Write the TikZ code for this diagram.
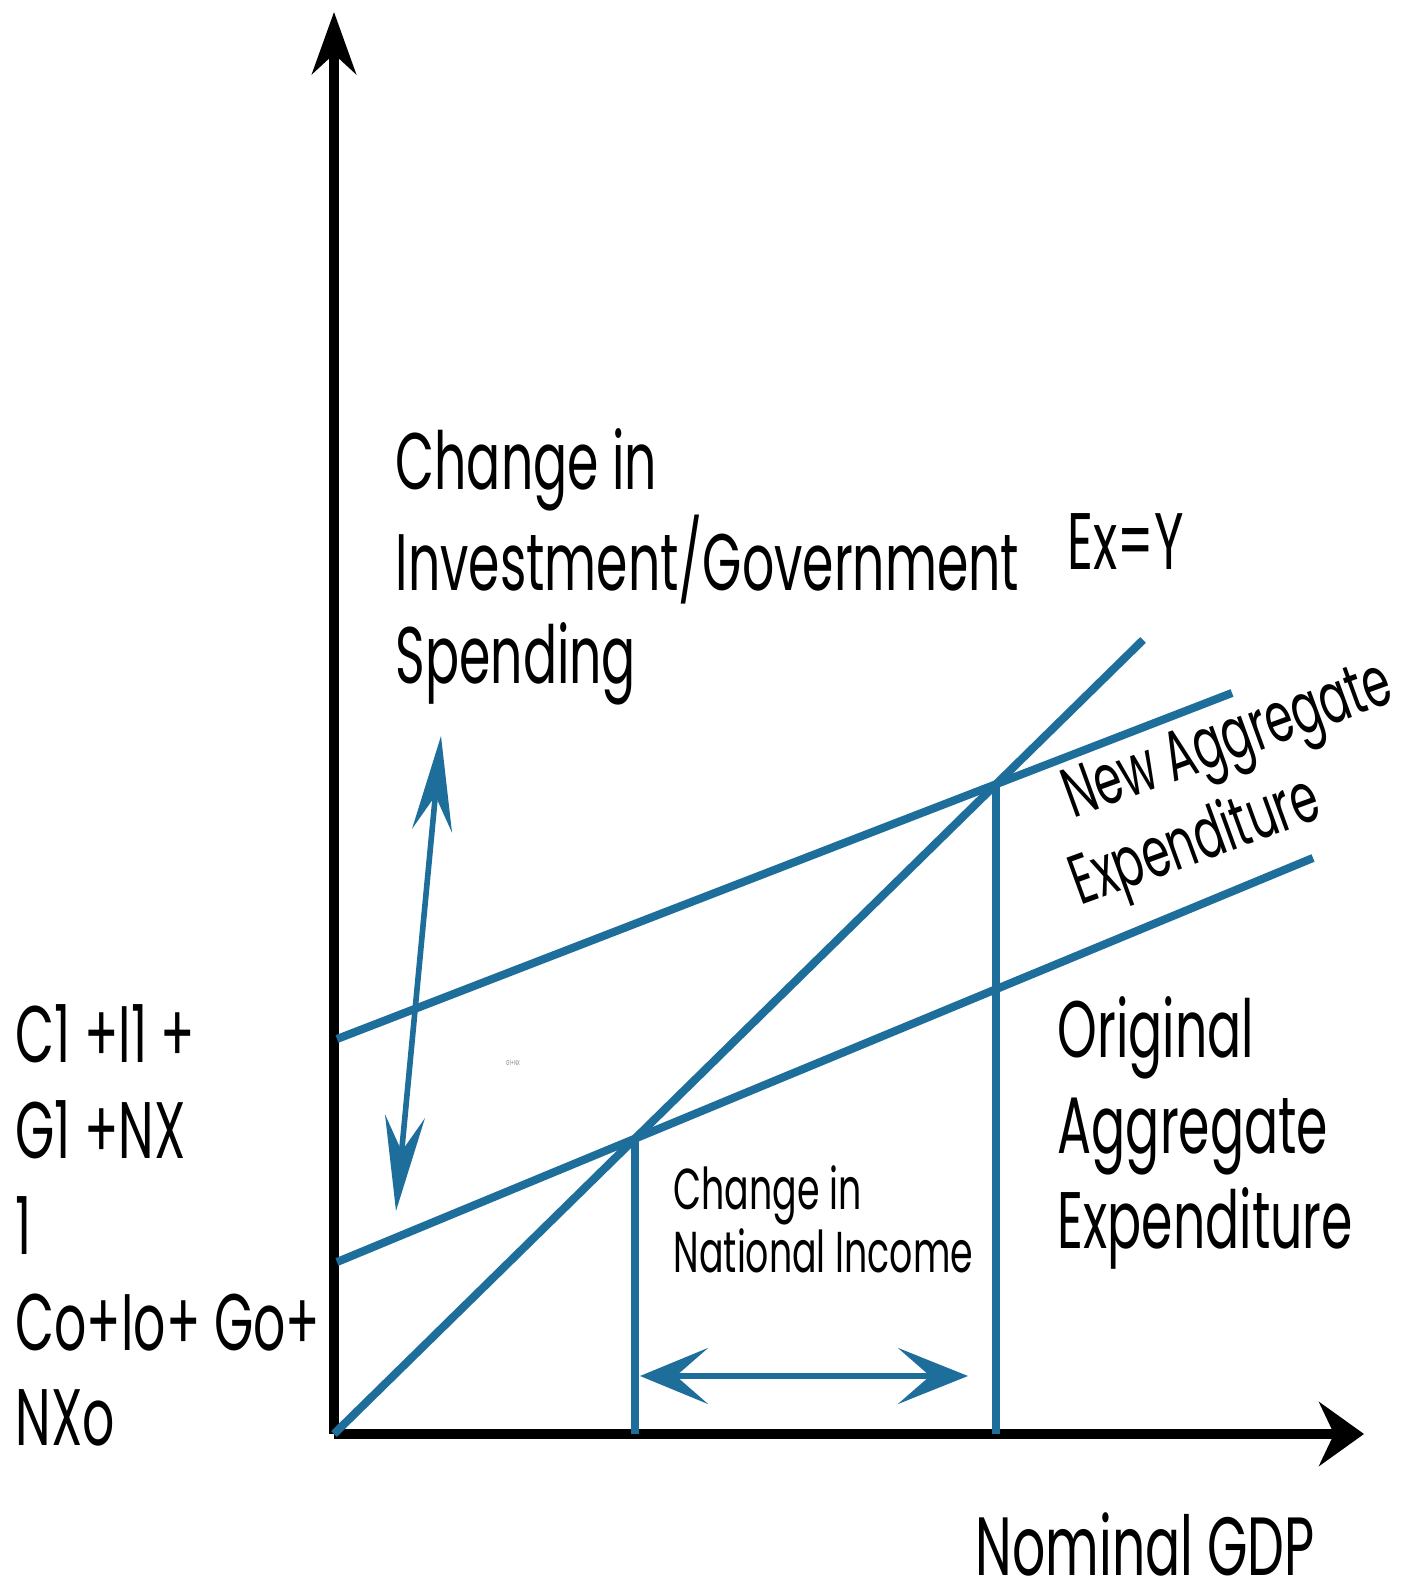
\documentclass[tikz,border=0pt]{standalone}
\usepackage{fontspec}
\setmainfont{Poppins}[FakeStretch=0.63]
\usetikzlibrary{arrows.meta,positioning}
\definecolor{aeblue}{RGB}{30,110,155}

\begin{document}
\begin{tikzpicture}[axis/.style = {line width=2.6pt, black},
	aeline/.style = {line width=2.3pt, aeblue},
	shiftarrow/.style = {line width=1.6pt, aeblue},
	lbl/.style = {align=left, inner sep=0pt, anchor=base west, font=\fontsize{22.8}{26.7}\selectfont},
	smalllbl/.style = {lbl, font=\fontsize{16.4}{18.1}\selectfont}, ]
	\useasboundingbox (0,0) rectangle (14,15.86);
	% axes
	\coordinate (O) at (3.34,1.52);
	\coordinate (ytip) at (3.34,15.74);
	\coordinate (xtip) at (13.64,1.52);
	\draw [axis, -{Stealth[length=6.2mm, width=4.4mm, inset=2mm]}] (O) -- (ytip);
	\draw [axis, -{Stealth[length=4.5mm, width=6.4mm, inset=1.5mm]}] (O) -- (xtip);
	% lines
	\coordinate (eyTop) at (11.43,9.46);
	\coordinate (oaL) at (3.37,3.24);
	\coordinate (oaR) at (13.13,7.28);
	\coordinate (naL) at (3.37,5.47);
	\coordinate (naR) at (12.32,8.93);
	\draw [aeline] (O) -- (eyTop);
	\draw [aeline] (oaL) -- (oaR);
	\draw [aeline] (naL) -- (naR);
	\coordinate (e1) at (intersection of O--eyTop and oaL--oaR);
	\coordinate (e2) at (intersection of O--eyTop and naL--naR);
	\draw [aeline] (e1) -- (e1 |- O);
	\draw [aeline] (e2) -- (e2 |- O);
	% shift arrows
	\coordinate (hL) at (6.40,2.10);
	\coordinate (hR) at (9.68,2.10);
	\draw [shiftarrow, {Stealth[length=6.8mm, width=5.6mm, inset=3.2mm]}-{Stealth[length=7mm, width=5.6mm, inset=3.2mm]}] (hL) -- (hR);
	\coordinate (vT) at (4.41,8.50);
	\coordinate (vB) at (3.96,3.75);
	\draw [shiftarrow, {Stealth[length=9.5mm, width=4mm, inset=3.5mm]}-{Stealth[length=9.5mm, width=4mm, inset=3.5mm]}] (vB) -- (vT);
	% labels (anchored at the last line)
	\node [lbl] (spend) at (3.95,9.02) {Change in\\Investment/Government\\Spending};
	\node [lbl] (exy) at (10.67,10.16) {Ex=Y};
	\node [lbl, rotate=20, font=\fontsize{20}{24}\selectfont] (newae) at (10.80,6.80) {\hspace{2.3mm}New Aggregate\\Expenditure};
	\node [lbl, font=\fontsize{22.8}{27.3}\selectfont] (origae) at (10.57,3.37) {Original\\Aggregate\\Expenditure};
	\node [smalllbl] (income) at (6.73,3.13) {Change in\\National Income};
	\node [lbl, font=\fontsize{22.8}{27.3}\selectfont] (ylab) at (0.15,1.40) {C1\,+I1\,+\\G1\,+NX\\1\\Co+Io+ Go+\\NXo};
	\node [inner sep=0pt, anchor=base west, font=\fontsize{23.5}{28}\selectfont] (xlab) at (9.75,0.10) {Nominal GDP};
	\node [font=\fontsize{2}{2}\selectfont, gray, inner sep=0pt] (tiny) at (5.13,5.23) {G1+NX};
\end{tikzpicture}
\end{document}
